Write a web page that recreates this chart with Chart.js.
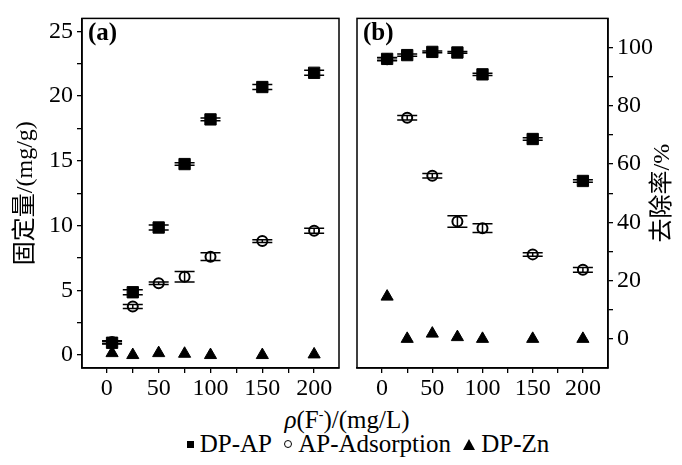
<!DOCTYPE html>
<html>
<head>
<meta charset="utf-8">
<script src="https://cdn.jsdelivr.net/npm/chart.js@4/dist/chart.umd.min.js"></script>
<style>
  body { margin: 0; background: #fff; }
  #fig { position: relative; width: 682px; height: 465px; font-family: 'Liberation Serif', 'Noto Sans CJK SC', serif; color: #000; }
  #grafA { position: absolute; left: 0; top: 0; }
  #grafB { position: absolute; left: 348px; top: 0; }
  #tituloX { position: absolute; left: 6px; width: 682px; top: 400px; text-align: center; font-size: 25px; line-height: 30px; }
  #leyenda { position: absolute; left: 27px; width: 682px; top: 429px; text-align: center; font-size: 25px; line-height: 30px; white-space: nowrap; }
  .item { margin: 0 3px; }
  .sym { display: inline-block; vertical-align: middle; margin-right: 6px; position: relative; top: -2px; }
  .cuad { width: 7px; height: 7px; background: #000; }
  .circ { width: 6px; height: 6px; border: 1.5px solid #000; border-radius: 50%; }
  .tri { width: 0; height: 0; border-left: 6.5px solid transparent; border-right: 6.5px solid transparent; border-bottom: 11px solid #000; }
</style>
</head>
<body>
<div id="fig">
  <canvas id="grafA" width="348" height="400"></canvas>
  <canvas id="grafB" width="334" height="400"></canvas>
  <div id="tituloX"><i>ρ</i>(F<sup style="font-size:14px">-</sup>)/(mg/L)</div>
  <div id="leyenda"></div>
</div>
<script>
// Datos
const concentraciones = [5, 25, 50, 75, 100, 150, 200];
const nombresSeries = ["DP-AP", "AP-Adsorption", "DP-Zn"];

// (a) cantidad fijada, mg/g
const fijadoDPAP = [0.95, 4.85, 9.85, 14.75, 18.2, 20.7, 21.8];
const fijadoAP = [1.0, 3.75, 5.55, 6.05, 7.6, 8.8, 9.6];
const fijadoZn = [0.15, 0.0, 0.15, 0.1, 0.0, 0.0, 0.05];
const errFijadoDPAP = [0.1, 0.2, 0.2, 0.1, 0.1, 0.2, 0.2];
const errFijadoAP = [0.1, 0.15, 0.1, 0.4, 0.3, 0.1, 0.2];

// (b) tasa de eliminación, %
const remocionDPAP = [96.1, 97.4, 98.5, 98.3, 90.8, 68.6, 54.2];
const remocionAP = [96.0, 75.9, 56.0, 40.3, 38.0, 29.0, 23.7];
const remocionZn = [14.5, 0.0, 1.8, 0.6, 0.0, 0.0, 0.0];
const errRemocionDPAP = [0.5, 0.4, 0.3, 0.3, 0.4, 0.4, 0.4];
const errRemocionAP = [0.5, 0.8, 0.8, 2.0, 1.5, 0.6, 0.8];

// Marcas de los ejes
const xMayores = [0, 50, 100, 150, 200];
const xMenores = [25, 75, 125, 175];
const yMayoresA = [0, 5, 10, 15, 20, 25];
const yMenoresA = [2.5, 7.5, 12.5, 17.5, 22.5];
const yMayoresB = [0, 20, 40, 60, 80, 100];
const yMenoresB = [10, 30, 50, 70, 90];

const FUENTE = "'Liberation Serif', 'Noto Sans CJK SC', serif";
const fuenteTicks = { family: FUENTE, size: 24 };

// Leyenda en HTML
const clasesSimbolo = ["cuad", "circ", "tri"];
document.getElementById("leyenda").innerHTML = nombresSeries.map((n, i) =>
  `<span class="item"><span class="sym ${clasesSimbolo[i]}"></span>${n}</span>`
).join(" ");

const puntos = (ys) => ys.map((y, i) => ({ x: concentraciones[i], y: y }));

// Plugin: marco completo alrededor del área
const pluginMarco = {
  id: "marco",
  afterDraw(chart) {
    const a = chart.chartArea, ctx = chart.ctx;
    ctx.save();
    ctx.strokeStyle = "#000";
    ctx.lineWidth = 1.5;
    ctx.strokeRect(a.left, a.top, a.right - a.left, a.bottom - a.top);
    ctx.restore();
  }
};

// Plugin: barras de error verticales
const pluginErrores = {
  id: "errores",
  afterDatasetsDraw(chart) {
    const ctx = chart.ctx, ys = chart.scales.y;
    chart.data.datasets.forEach((ds, i) => {
      if (!ds.errores) return;
      const meta = chart.getDatasetMeta(i);
      ctx.save();
      ctx.strokeStyle = "#000";
      ctx.lineWidth = 1.5;
      meta.data.forEach((p, j) => {
        const v = ds.data[j].y, e = ds.errores[j];
        const y1 = ys.getPixelForValue(v + e), y2 = ys.getPixelForValue(v - e);
        ctx.beginPath();
        ctx.moveTo(p.x, y1); ctx.lineTo(p.x, y2);
        ctx.moveTo(p.x - 10, y1); ctx.lineTo(p.x + 10, y1);
        ctx.moveTo(p.x - 10, y2); ctx.lineTo(p.x + 10, y2);
        ctx.stroke();
      });
      ctx.restore();
    });
  }
};

// Plugin: etiqueta del panel y título vertical derecho
const pluginTextos = {
  id: "textos",
  afterDraw(chart, args, opts) {
    const a = chart.chartArea, ctx = chart.ctx;
    ctx.save();
    ctx.fillStyle = "#000";
    ctx.font = "bold 25px " + FUENTE;
    ctx.textBaseline = "top";
    ctx.textAlign = "left";
    ctx.fillText(opts.panel, a.left + 6, a.top + 3);
    if (opts.tituloDerecho) {
      ctx.font = "24px " + FUENTE;
      ctx.translate(a.right + 55, (a.top + a.bottom) / 2);
      ctx.rotate(-Math.PI / 2);
      ctx.textAlign = "center";
      ctx.textBaseline = "middle";
      ctx.fillText(opts.tituloDerecho, 0, 0);
    }
    ctx.restore();
  }
};

function crearDatasets(serieCuad, serieCirc, serieTri, errCuad, errCirc) {
  return [
    {
      label: nombresSeries[0], data: puntos(serieCuad), errores: errCuad,
      pointStyle: "rect", pointRadius: 8, pointBackgroundColor: "#000",
      pointBorderColor: "#000", pointBorderWidth: 1, showLine: false
    },
    {
      label: nombresSeries[1], data: puntos(serieCirc), errores: errCirc,
      pointStyle: "circle", pointRadius: 5, pointBackgroundColor: "#fff",
      pointBorderColor: "#000", pointBorderWidth: 2, showLine: false
    },
    {
      label: nombresSeries[2], data: puntos(serieTri),
      pointStyle: "triangle", pointRadius: 7, pointBackgroundColor: "#000",
      pointBorderColor: "#000", pointBorderWidth: 1, showLine: false
    }
  ];
}

function ejeX(min, max) {
  return {
    type: "linear", min: min, max: max,
    afterBuildTicks: (s) => { s.ticks = xMayores.concat(xMenores).sort((a, b) => a - b).map(v => ({ value: v })); },
    ticks: {
      callback: (v) => xMayores.includes(v) ? String(v) : "",
      font: fuenteTicks, color: "#000", padding: 1, maxRotation: 0, autoSkip: false
    },
    grid: { drawOnChartArea: false, drawTicks: true, tickLength: 5, color: "#000", lineWidth: 1.3 },
    border: { display: true, color: "#000", width: 1.5 },
    afterFit: (s) => { s.height = 32; }
  };
}

function ejeY(min, max, mayores, menores, posicion, ancho, titulo) {
  return {
    type: "linear", min: min, max: max, position: posicion,
    afterBuildTicks: (s) => { s.ticks = mayores.concat(menores).sort((a, b) => a - b).map(v => ({ value: v })); },
    ticks: {
      callback: (v) => mayores.includes(v) ? String(v) : "",
      font: fuenteTicks, color: "#000", padding: 4, autoSkip: false
    },
    grid: { drawOnChartArea: false, drawTicks: true, tickLength: 5, color: "#000", lineWidth: 1.3 },
    border: { display: true, color: "#000", width: 1.5 },
    title: titulo ? {
      display: true, text: titulo, color: "#000",
      font: { family: FUENTE, size: 24 }, padding: { top: 11, bottom: 0 }
    } : { display: false },
    afterFit: (s) => { s.width = ancho; }
  };
}

const opcionesComunes = {
  responsive: false,
  animation: false,
  plugins: { legend: { display: false }, tooltip: { enabled: false } }
};

// Panel (a)
new Chart(document.getElementById("grafA"), {
  type: "scatter",
  data: { datasets: crearDatasets(fijadoDPAP, fijadoAP, fijadoZn, errFijadoDPAP, errFijadoAP) },
  options: {
    ...opcionesComunes,
    layout: { padding: { top: 12, right: 5, left: 0, bottom: 0 } },
    plugins: { ...opcionesComunes.plugins, textos: { panel: "(a)" } },
    scales: {
      x: ejeX(-24, 224),
      y: ejeY(-1, 26, yMayoresA, yMenoresA, "left", 82, "固定量/(mg/g)")
    }
  },
  plugins: [pluginMarco, pluginErrores, pluginTextos]
});

// Panel (b)
new Chart(document.getElementById("grafB"), {
  type: "scatter",
  data: { datasets: crearDatasets(remocionDPAP, remocionAP, remocionZn, errRemocionDPAP, errRemocionAP) },
  options: {
    ...opcionesComunes,
    layout: { padding: { top: 12, right: 0, left: 5, bottom: 0 } },
    plugins: { ...opcionesComunes.plugins, textos: { panel: "(b)", tituloDerecho: "去除率/%" } },
    scales: {
      x: ejeX(-25, 225),
      y: ejeY(-10, 110, yMayoresB, yMenoresB, "right", 74, null)
    }
  },
  plugins: [pluginMarco, pluginErrores, pluginTextos]
});
</script>
</body>
</html>
